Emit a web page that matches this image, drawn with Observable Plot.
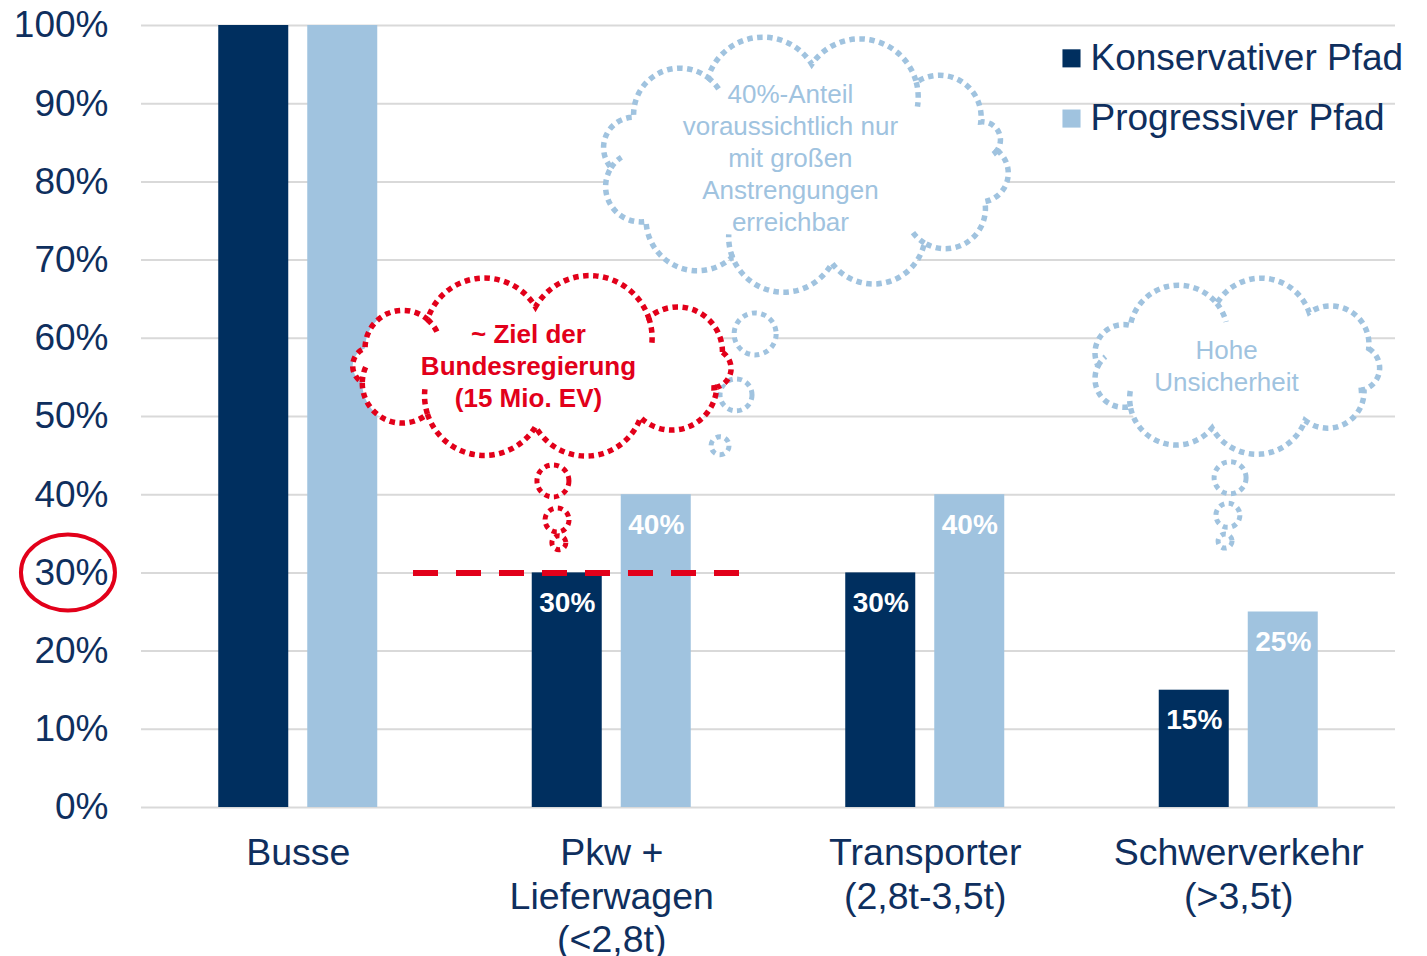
<!DOCTYPE html>
<html><head><meta charset="utf-8">
<script src="https://cdn.jsdelivr.net/npm/d3@7"></script>
<script src="https://cdn.jsdelivr.net/npm/@observablehq/plot@0.6"></script>
<style>html,body{margin:0;padding:0;background:#fff;overflow:hidden}</style>
</head><body><div id="chart"></div>
<script>
// ---- data ----
const categories = ["Busse", "Pkw +\nLieferwagen\n(<2,8t)", "Transporter\n(2,8t-3,5t)", "Schwerverkehr\n(>3,5t)"];
const series = ["Konservativer Pfad", "Progressiver Pfad"];
const konservativ = [100, 30, 30, 15];
const progressiv = [100, 40, 40, 25];
const labelled = [false, true, true, true];
const yTicks = [0, 10, 20, 30, 40, 50, 60, 70, 80, 90, 100];
const zielwert = 30;
const zielText = "~ Ziel der\nBundesregierung\n(15 Mio. EV)";
const hinweisTexte = ["40%-Anteil\nvoraussichtlich nur\nmit großen\nAnstrengungen\nerreichbar", "Hohe\nUnsicherheit"];

// ---- styles ----
const NAVY = "#002F5F", LIGHT = "#A0C3DF", RED = "#E2001A", INK = "#0F2F5E", GRID = "#D9D9D9";
const barW = 0.2233, barGap = 0.0606;

const rows = categories.flatMap((c, i) => [
  {i, s: 0, v: konservativ[i], name: series[0]},
  {i, s: 1, v: progressiv[i], name: series[1]}
]);
const left = d => d.s === 0 ? d.i - barGap / 2 - barW : d.i + barGap / 2;

// annotation layout (data anchors, pixel radii)
const clouds = [
  {x: 1.618, y: 82.2, rx: 194, ry: 100, q: 1.1, color: LIGHT,
   angles: [-8, 22, 52, 82, 112, 145, 178, 208, 240, 272, 305, 335], hooks: [1, 3, 5, 7, 9, 11]},
  {x: 0.779, y: 56.3, rx: 186, ry: 60, q: 1.1, color: RED,
   angles: [-14, 20, 58, 92, 128, 165, 198, 232, 268, 305], hooks: [0, 3, 4, 6, 8]},
  {x: 2.993, y: 56.4, rx: 138, ry: 63, q: 1.1, color: LIGHT,
   angles: [-16, 22, 60, 100, 140, 180, 220, 262, 302], hooks: [0, 3, 4, 6]}
];
const bubbles = [
  {x: 1.459, y: 60.5, r: 21, color: LIGHT}, {x: 1.398, y: 52.7, r: 16, color: LIGHT}, {x: 1.347, y: 46.2, r: 9, color: LIGHT},
  {x: 0.814, y: 41.7, r: 16, color: RED}, {x: 0.827, y: 36.7, r: 12, color: RED}, {x: 0.833, y: 33.8, r: 7, color: RED},
  {x: 2.974, y: 42.1, r: 16, color: LIGHT}, {x: 2.967, y: 37.3, r: 12, color: LIGHT}, {x: 2.958, y: 34.0, r: 7, color: LIGHT}
];
const cloudOrder = [[0, [0,1,2]], [1, [3,4,5]], [2, [6,7,8]]];

function cloudPath(c, cx, cy) {
  const pts = c.angles.map(a => { const t = a * Math.PI / 180; return [cx + c.rx * Math.cos(t), cy + c.ry * Math.sin(t)]; });
  let d = `M${pts[0][0]},${pts[0][1]}`, hk = "";
  const n = pts.length;
  pts.forEach((A, k) => {
    const B = pts[(k + 1) % n];
    const vx = B[0] - A[0], vy = B[1] - A[1], ch = Math.hypot(vx, vy);
    const r = ch / 2 * c.q;
    const mx = (A[0] + B[0]) / 2, my = (A[1] + B[1]) / 2;
    let nx = vy / ch, ny = -vx / ch;
    if (nx * (mx - cx) + ny * (my - cy) < 0) { nx = -nx; ny = -ny; }
    const h = Math.sqrt(Math.max(0, r * r - ch * ch / 4));
    const Cx = mx - nx * h, Cy = my - ny * h; // centre inside: shallow bump
    d += `A${r},${r} 0 0 1 ${B[0]},${B[1]}`;
    if (c.hooks.includes(k)) {
      const tb = Math.atan2(B[1] - Cy, B[0] - Cx) + 0.42;
      hk += `M${B[0]},${B[1]}A${r},${r} 0 0 1 ${Cx + r * Math.cos(tb)},${Cy + r * Math.sin(tb)}`;
    }
  });
  return [d + "Z", hk];
}

function annotations(index, scales) {
  const X = scales.x, Y = scales.y;
  const g = d3.create("svg:g");
  // red ellipse around the 30% tick
  g.append("ellipse").attr("cx", X(-0.733)).attr("cy", Y(zielwert)).attr("rx", 47).attr("ry", 38)
    .attr("fill", "none").attr("stroke", RED).attr("stroke-width", 4);
  for (const [ci, bs] of cloudOrder) {
    const c = clouds[ci];
    for (const bi of bs) {
      const b = bubbles[bi];
      g.append("circle").attr("cx", X(b.x)).attr("cy", Y(b.y)).attr("r", b.r)
        .attr("fill", "white").attr("stroke", b.color).attr("stroke-width", 5).attr("stroke-dasharray", "5 4.5");
    }
    const [d, hk] = cloudPath(c, X(c.x), Y(c.y));
    g.append("path").attr("d", d).attr("fill", "white").attr("stroke", c.color)
      .attr("stroke-width", 5.5).attr("stroke-dasharray", "5.5 4.5");
    g.append("path").attr("d", hk).attr("fill", "none").attr("stroke", c.color)
      .attr("stroke-width", 5.5).attr("stroke-dasharray", "5.5 4.5");
  }
  return g.node();
}

const hinweisPos = [{x: 1.570, y: 83.25}, {x: 2.961, y: 56.65}];

const chart = Plot.plot({
  width: 1427, height: 956,
  marginTop: 25, marginBottom: 149, marginLeft: 141, marginRight: 32,
  x: {domain: [-0.5, 3.5], axis: null},
  y: {domain: [0, 100], axis: null},
  color: {domain: series, range: [NAVY, LIGHT]},
  style: {fontFamily: "'Liberation Sans', Arial, sans-serif", background: "white", overflow: "visible"},
  marks: [
    Plot.ruleY(yTicks, {stroke: GRID, strokeWidth: 2}),
    Plot.axisY({ticks: yTicks, label: null, tickSize: 0, tickPadding: 33, tickFormat: d => d + "%", fontSize: 37, fill: INK, color: INK}),
    Plot.rectY(rows, {x1: left, x2: d => left(d) + barW, y1: 0, y2: "v", fill: "name"}),
    Plot.text(rows.filter(d => labelled[d.i]), {x: d => left(d) + barW / 2, y: "v", dy: 30, text: d => d.v + "%",
      fill: "white", fontWeight: "bold", fontSize: 28}),
    Plot.ruleY([zielwert], {x1: 0.3676, x2: 1.4115, stroke: RED, strokeWidth: 6, strokeDasharray: "25 18"}),
    annotations,
    Plot.text([zielText], {x: 0.7344, y: 56.65, text: d => d, fill: RED, fontWeight: "bold", fontSize: 26, lineHeight: 1.23}),
    Plot.text(hinweisTexte, {x: (d, i) => hinweisPos[i].x, y: (d, i) => hinweisPos[i].y, text: d => d,
      fill: LIGHT, fontSize: 26, lineHeight: 1.23}),
    Plot.dot(series, {x: 2.4665, y: (d, i) => [95.8, 88.1][i], symbol: "square", r: 10.2, fill: d => d}),
    Plot.text(series, {x: 2.4665, y: (d, i) => [95.8, 88.1][i], dx: 19, text: d => d, textAnchor: "start",
      fontSize: 37, fill: INK}),
    Plot.text(categories, {x: (d, i) => i, y: 0, dy: 27, text: d => d, lineAnchor: "top", lineHeight: 1.16,
      fontSize: 37.5, fill: INK})
  ]
});
document.getElementById("chart").append(chart);
</script>
</body></html>
